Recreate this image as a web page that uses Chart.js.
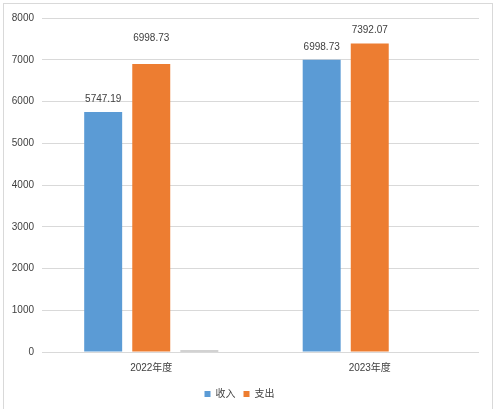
<!DOCTYPE html>
<html>
<head>
<meta charset="utf-8">
<script src="https://cdn.jsdelivr.net/npm/chart.js@4"></script>
<style>
  html, body { margin: 0; padding: 0; background: #fff; }
  #wrap { width: 500px; height: 409px; }
</style>
</head>
<body>
<div id="wrap"><canvas id="myChart" width="500" height="409"></canvas></div>
<script>
const categories = ["2022年度", "2023年度"];
const income = [5747.19, 6998.73];
const expense = [6900, 7392.07];
const other = [35, null];
const incomeText = ["5747.19", "6998.73"];
const expenseText = ["6998.73", "7392.07"];
const yTicks = [0, 1000, 2000, 3000, 4000, 5000, 6000, 7000, 8000];

const fontFamily = '"Liberation Sans", "Noto Sans CJK SC", sans-serif';

// frame around the whole chart
const framePlugin = {
  id: "frame",
  beforeDraw(chart) {
    const ctx = chart.ctx;
    ctx.save();
    ctx.fillStyle = "#fff";
    ctx.fillRect(0, 0, chart.width, chart.height);
    ctx.strokeStyle = "#d9d9d9";
    ctx.lineWidth = 1;
    ctx.strokeRect(3.5, 3.5, 489, 420);
    ctx.restore();
  },
};

// value labels above the bars
const valueLabels = {
  id: "valueLabels",
  afterDatasetsDraw(chart) {
    const ctx = chart.ctx;
    ctx.save();
    ctx.font = "10px " + fontFamily;
    ctx.fillStyle = "#404040";
    ctx.textAlign = "center";
    ctx.textBaseline = "middle";
    chart.data.datasets.forEach((ds, i) => {
      if (!ds.labelText) return;
      chart.getDatasetMeta(i).data.forEach((bar, j) => {
        const lift = (ds.labelLift && ds.labelLift[j]) || 0;
        ctx.fillText(ds.labelText[j], bar.x, bar.y - 13 - lift);
      });
    });
    ctx.restore();
  },
};

const ctx = document.getElementById("myChart").getContext("2d");
new Chart(ctx, {
  type: "bar",
  data: {
    labels: categories,
    datasets: [
      {
        label: "收入",
        data: income,
        backgroundColor: "#5b9bd5",
        labelText: incomeText,
      },
      {
        label: "支出",
        data: expense,
        backgroundColor: "#ed7d31",
        labelText: expenseText,
        labelLift: [13, 0],
      },
      {
        label: "其他",
        data: other,
        backgroundColor: "#a5a5a5",
      },
    ],
  },
  options: {
    responsive: false,
    animation: false,
    categoryPercentage: 0.66,
    barPercentage: 0.79,
    layout: {
      padding: { top: 18, right: 21, left: 0, bottom: 0 },
    },
    plugins: {
      legend: {
        position: "bottom",
        labels: {
          filter: (item) => item.datasetIndex < 2,
          boxWidth: 6,
          boxHeight: 6,
          padding: 8,
          color: "#404040",
          font: { family: fontFamily, size: 10 },
        },
      },
      tooltip: { enabled: false },
    },
    scales: {
      x: {
        grid: { display: false, drawTicks: false },
        border: { display: false },
        afterFit: (scale) => {
          scale.height = 29;
        },
        ticks: {
          color: "#404040",
          padding: 10,
          font: { family: fontFamily, size: 10 },
        },
      },
      y: {
        min: 0,
        max: 8000,
        afterBuildTicks: (scale) => {
          scale.ticks = yTicks.map((v) => ({ value: v }));
        },
        afterFit: (scale) => {
          scale.width = 42;
        },
        grid: { color: "#d9d9d9", drawTicks: false },
        border: { display: false },
        ticks: {
          color: "#404040",
          padding: 8,
          callback: (v) => String(v),
          font: { family: fontFamily, size: 10 },
        },
      },
    },
  },
  plugins: [framePlugin, valueLabels],
});
</script>
</body>
</html>
